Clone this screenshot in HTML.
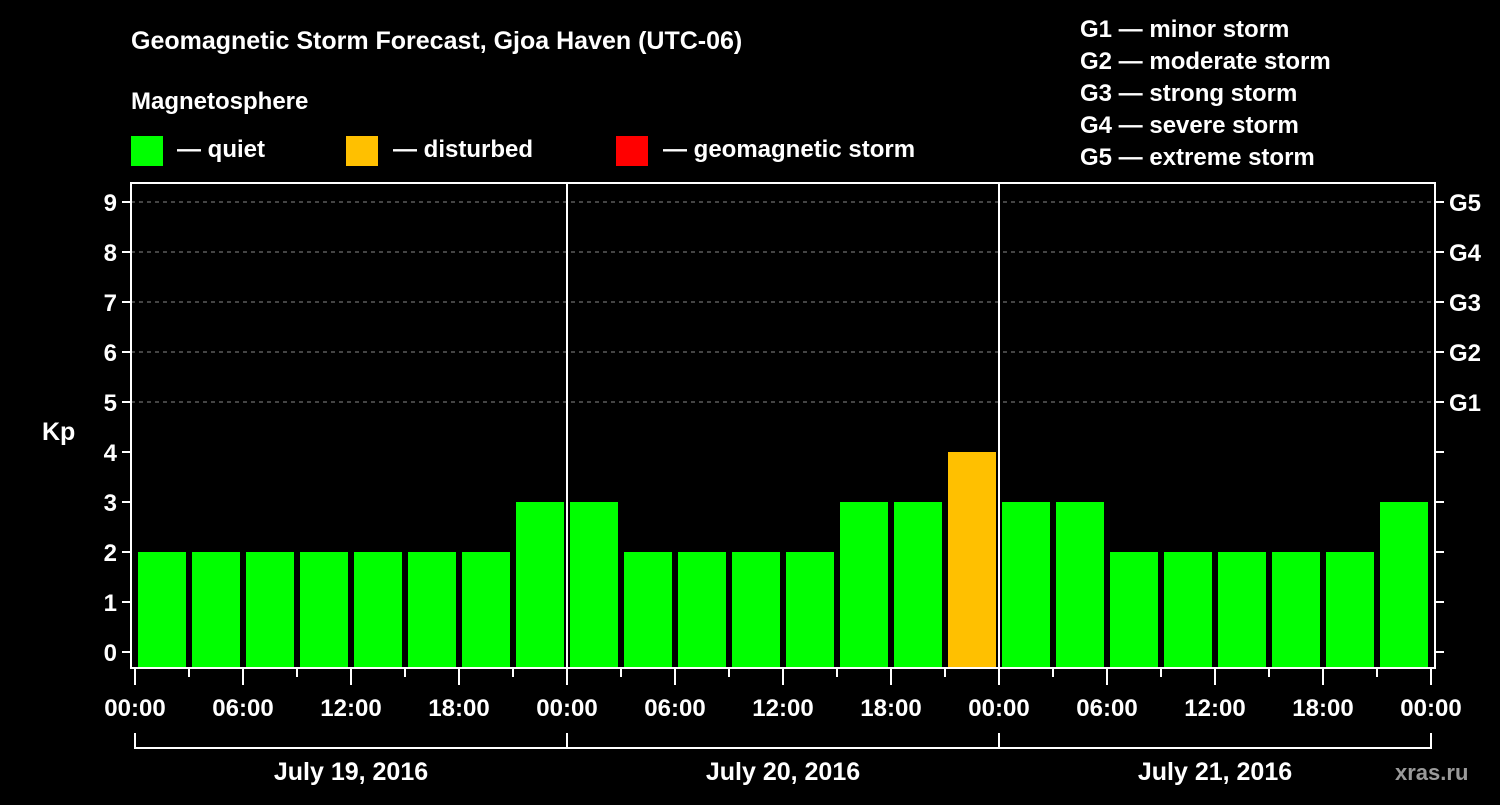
<!DOCTYPE html>
<html><head><meta charset="utf-8"><style>
body{margin:0;background:#000;width:1500px;height:800px;overflow:hidden}
svg text{font-family:"Liberation Sans",sans-serif;font-weight:bold;fill:#fff}
</style></head><body>
<svg id="c" width="1500" height="800">
<text x="131" y="49" font-size="25">Geomagnetic Storm Forecast, Gjoa Haven (UTC-06)</text>
<text x="131" y="109" font-size="24">Magnetosphere</text>
<rect x="131" y="136" width="32" height="30" fill="#00ff00"/>
<text x="177" y="157" font-size="24">— quiet</text>
<rect x="346" y="136" width="32" height="30" fill="#ffc000"/>
<text x="393" y="157" font-size="24">— disturbed</text>
<rect x="616" y="136" width="32" height="30" fill="#ff0000"/>
<text x="663" y="157" font-size="24">— geomagnetic storm</text>
<g font-size="24">
<text x="1080" y="37">G1 — minor storm</text>
<text x="1080" y="69">G2 — moderate storm</text>
<text x="1080" y="101">G3 — strong storm</text>
<text x="1080" y="133">G4 — severe storm</text>
<text x="1080" y="165">G5 — extreme storm</text>
</g>
<text x="42" y="440" font-size="25">Kp</text>
<text x="1395" y="780" font-size="22" fill="#aaa" style="fill:#9a9a9a">xras.ru</text>
<g id="plot"></g>
</svg>
<script>
const kpValues=[2,2,2,2,2,2,2,3, 3,2,2,2,2,3,3,4, 3,3,2,2,2,2,2,3];
const dayLabels=["July 19, 2016","July 20, 2016","July 21, 2016"];
const hourLabels=["00:00","06:00","12:00","18:00"];
const gLabels=["G1","G2","G3","G4","G5"];
const yTicks=[0,1,2,3,4,5,6,7,8,9];
const NS="http://www.w3.org/2000/svg";
const g=document.getElementById('plot');
const L=131,R=1435,T=183,B=668,X0=135,DAY=432;
const y=v=>652-v*50;
const x=h=>X0+h*DAY/24;
function mk(t,a){const e=document.createElementNS(NS,t);for(const k in a)e.setAttribute(k,a[k]);g.appendChild(e);return e;}
yTicks.forEach(v=>{
 if(v>=5){const l=mk('line',{x1:L,x2:R,y1:y(v),y2:y(v),stroke:'#888','stroke-dasharray':'4,4'});
 
 }
 const t1=mk('line',{x1:L-9,x2:L,y1:y(v),y2:y(v),stroke:'#fff','stroke-width':2});
 
 
 const t2=mk('line',{x1:R,x2:R+9,y1:y(v),y2:y(v),stroke:'#fff','stroke-width':2});
 
 
 const tx=mk('text',{x:L-14,y:y(v)+9,'font-size':24,'text-anchor':'end'});tx.textContent=v;
 
 
});
gLabels.forEach((s,i)=>{const tx=mk('text',{x:1449,y:y(5+i)+9,'font-size':24});tx.textContent=s;
 
 });
kpValues.forEach((v,i)=>{
 const c=v>=5?'#ff0000':(v>=4?'#ffc000':'#00ff00');
 const r=mk('rect',{x:x(i*3)+3,y:y(v),width:DAY/8-6,height:B-1-y(v),fill:c});
 
 
});
for(let d=1;d<3;d++){const l=mk('line',{x1:x(d*24),x2:x(d*24),y1:T,y2:B,stroke:'#fff','stroke-width':2});
 
 }
const fr=mk('rect',{x:L,y:T,width:R-L,height:B-T,fill:'none',stroke:'#fff','stroke-width':2});


for(let h=0;h<=72;h+=3){const maj=h%6==0;
 const l=mk('line',{x1:x(h),x2:x(h),y1:B,y2:B+(maj?17:9),stroke:'#fff','stroke-width':2});
 
 
 if(maj&&h%24%6==0&&(h%24==0||true)){}
}
for(let h=0;h<=72;h+=6){
 const tx=mk('text',{x:x(h),y:716,'font-size':24,'text-anchor':'middle'});tx.textContent=hourLabels[(h%24)/6];
 
 
}
dayLabels.forEach((s,d)=>{
 const p=mk('path',{d:`M${x(d*24)},733V748H${x(d*24+24)}V733`,fill:'none',stroke:'#fff','stroke-width':2});
 
 
 const tx=mk('text',{x:x(d*24+12),y:780,'font-size':25,'text-anchor':'middle'});tx.textContent=s;
 
 
});
</script>
</body></html>
